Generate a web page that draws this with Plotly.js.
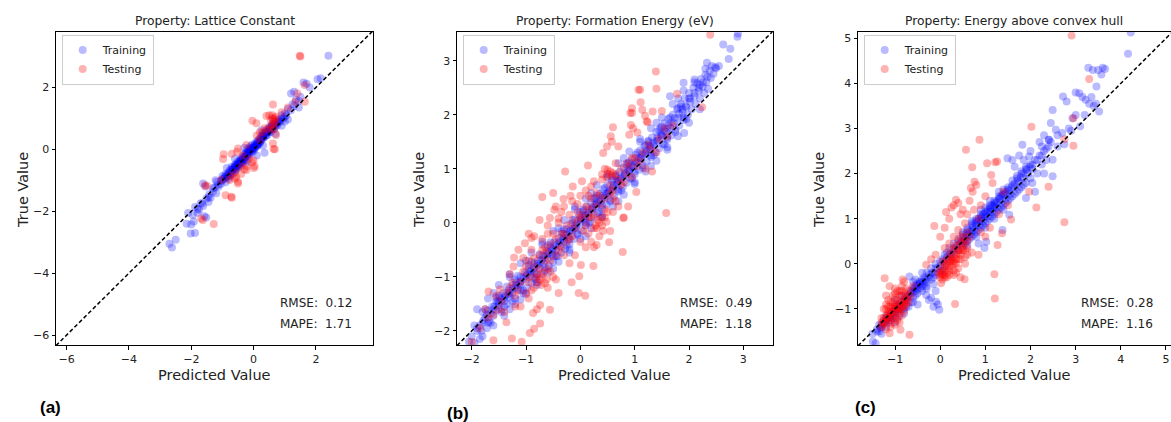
<!DOCTYPE html>
<html>
<head>
<meta charset="utf-8">
<script src="https://cdn.plot.ly/plotly-3.0.1.min.js"></script>
<style>html,body{margin:0;padding:0;background:#fff;}#chart{width:1171px;height:422px;}</style>
</head>
<body>
<div id="chart"></div>
<script>
// ---------- DATA ----------
const panelTitles = ["Property: Lattice Constant", "Property: Formation Energy (eV)", "Property: Energy above convex hull"];
const panelLetters = ["(a)", "(b)", "(c)"];
const rmseValues = ["0.12", "0.49", "0.28"];
const mapeValues = ["1.71", "1.18", "1.16"];
const seriesNames = ["Training", "Testing"];
const xRanges = [[-6.34, 3.83], [-2.27, 3.54], [-1.82, 5.10]];
const yRanges = [[-6.32, 3.79], [-2.26, 3.53], [-1.80, 5.14]];
const tickSteps = [2, 1, 1];

// Panel (a) Lattice Constant: [predicted, true]
const trainA = [
[-2.62,-3.17],[-2.7,-3.05],[-2.5,-2.92],[-2.02,-2.72],[-1.88,-2.7],[-2.15,-2.4],[-2.0,-2.43],[-1.92,-2.33],[-2.1,-2.06],[-1.95,-2.12],
[-1.8,-2.05],[-1.75,-1.95],[-1.88,-1.86],[-1.62,-1.83],[-1.7,-1.74],[-1.52,-2.2],[-1.58,-2.16],[-1.45,-1.7],[-1.52,-1.6],[-1.38,-1.56],
[-1.42,-1.45],[-1.62,-1.1],[-1.55,-1.2],[-1.3,-1.36],[-1.25,-1.24],[-1.2,-1.42],[-1.12,-1.2],[-1.18,-1.05],[-1.05,-1.12],
[-1.0,-1.0],[-1.0,-0.86],[-0.95,-0.96],[-0.9,-1.06],[-0.9,-0.8],[-0.85,-0.9],[-0.8,-0.75],[-0.8,-0.95],[-0.75,-0.85],[-0.75,-0.66],
[-0.7,-0.72],[-0.7,-0.56],[-0.66,-0.8],[-0.65,-0.62],[-0.6,-0.5],[-0.6,-0.7],[-0.56,-0.6],[-0.55,-0.46],[-0.5,-0.56],[-0.5,-0.4],
[-0.46,-0.5],[-0.45,-0.35],[-0.4,-0.45],[-0.4,-0.3],[-0.36,-0.4],[-0.35,-0.25],[-0.3,-0.35],[-0.3,-0.16],[-0.26,-0.25],[-0.25,-0.1],
[-0.2,-0.2],[-0.2,0.0],[-0.15,-0.15],[-0.15,0.05],[-0.1,-0.05],[-0.1,0.1],[-0.05,0.0],[-0.05,0.15],[0.0,-0.05],[0.0,0.1],
[0.05,0.05],[0.05,0.2],[0.1,0.1],[0.1,0.25],[0.15,0.15],[0.15,0.3],[0.2,0.2],[0.2,0.36],[0.25,0.3],[0.25,0.45],
[0.3,0.36],[0.3,0.5],[0.35,0.4],[0.4,0.5],[0.4,0.62],[0.45,0.46],[0.5,0.6],[0.5,0.72],[0.55,0.56],[0.6,0.7],
[0.6,0.82],[0.65,0.66],[0.7,0.86],[0.75,0.76],[0.8,0.96],[0.85,0.9],[0.9,1.1],[0.95,1.0],[1.0,1.16],[1.05,1.1],[1.1,1.3],[1.2,1.26],
[-0.92,-0.88],[-0.82,-0.84],[-0.72,-0.78],[-0.62,-0.64],[-0.52,-0.5],[-0.42,-0.38],[-0.32,-0.28],[-0.22,-0.1],[-0.12,-0.02],[-0.02,0.05],
[0.08,0.15],[0.18,0.28],[0.28,0.4],[0.38,0.55],[0.48,0.66],[0.58,0.75],[0.68,0.8],[0.78,0.88],[-0.58,-0.52],[-0.48,-0.44],
[-0.38,-0.34],[-0.28,-0.2],[-0.18,-0.08],[-0.08,0.04],[0.02,0.0],[0.12,0.2],[0.22,0.26],[0.32,0.45],
[1.25,1.46],[1.3,1.4],[1.36,1.6],[1.45,1.56],[1.5,1.7],[1.3,1.86],[1.2,1.8],[1.6,2.16],[1.7,2.12],[1.8,2.0],[2.05,2.26],[2.15,2.3],[2.4,3.02],
[0.35,-0.11],[-0.3,0.05],[0.1,-0.2],[0.7,0.5],[0.9,0.76],[1.1,0.96],[-0.86,-0.6],[-1.22,-1.0],[0.3,0.12],[0.62,0.96],
[0.25,0.62],[-0.6,-0.3],[-0.2,-0.42],[1.0,0.9],[1.45,1.35],
[-0.85,-0.82],[-0.78,-0.72],[-0.68,-0.66],[-0.62,-0.56],[-0.55,-0.54],[-0.48,-0.48],[-0.42,-0.42],[-0.35,-0.32],[-0.28,-0.26],[-0.22,-0.18],
[-0.15,-0.1],[-0.08,-0.02],[-0.02,0.02],[0.05,0.12],[0.12,0.12],[0.18,0.22],[0.25,0.36],[0.32,0.4],[0.4,0.55],[0.45,0.55],
[0.52,0.64],[0.6,0.75],[0.7,0.78],[0.8,0.92],[0.9,1.0],[1.0,1.05],[-1.05,-1.02],[-1.15,-1.15],[-1.3,-1.25],[-1.45,-1.55],
[-1.65,-1.75],[-1.8,-1.92],
[-1.0,-0.95],[-0.9,-0.9],[-0.8,-0.85],[-0.7,-0.65],[-0.6,-0.6],[-0.5,-0.5],[-0.4,-0.38],[-0.3,-0.3],[-0.2,-0.15],[-0.1,0.0],
[0.0,0.05],[0.1,0.15],[0.2,0.25],[0.3,0.42],[0.4,0.45],[0.5,0.55],[0.6,0.65],[0.7,0.75],[0.8,0.85],[-0.55,-0.65],
[-0.45,-0.55],[-0.35,-0.45],[-0.25,-0.35],[-0.15,-0.2],[-0.05,-0.1]
];
const testA = [
[1.48,3.02],[1.5,3.0],[0.62,1.45],[-0.04,0.92],[0.09,0.84],[0.41,1.08],[0.5,1.1],[0.6,1.02],[0.68,1.0],[0.7,0.9],
[0.62,0.8],[0.55,0.75],[0.66,0.66],[0.35,0.68],[0.45,0.65],[0.72,0.46],[0.62,0.19],[0.64,0.01],[0.68,0.0],[1.34,1.54],
[1.64,1.54],[1.4,1.8],[1.64,2.08],[-0.96,-0.16],[-0.98,-0.31],[-0.7,-0.14],[-0.53,-0.08],[-0.5,0.03],[-0.23,0.14],[0.0,-0.35],
[-0.05,-0.42],[0.03,-0.55],[0.01,-0.6],[-0.23,-0.67],[-0.3,-0.65],[-0.22,-0.55],[-0.56,-0.89],[-0.5,-1.05],[-0.77,-0.99],[-1.04,-0.99],
[-0.5,-1.1],[-0.6,-0.95],[-0.4,-0.8],[-1.5,-1.18],[-1.56,-1.16],[-0.9,-1.48],[-0.72,-1.53],[-0.7,-1.56],[-1.68,-2.23],[-1.63,-2.28],
[-1.28,-2.41],[-0.15,-0.3],[0.2,0.3],[0.9,1.2],[1.1,1.35],[-0.35,-0.2],[0.3,0.55],
[0.55,0.95],[0.65,0.9],[0.6,1.1],[0.72,1.05],[0.58,0.65],[-0.75,-0.85],[-0.6,-0.75],[-0.4,-0.55],[0.1,0.45],[0.2,0.55]
];

// Panel (b) Formation Energy
const trainB = [
[-2.05,-2.2],[-2.0,-2.1],[-1.95,-2.22],[-1.9,-2.0],[-1.95,-1.9],[-1.85,-2.15],[-1.8,-1.85],[-1.82,-2.0],[-1.75,-1.75],[-1.72,-1.95],
[-1.7,-1.62],[-1.68,-1.82],[-1.62,-1.55],[-1.6,-1.72],[-1.55,-1.45],[-1.55,-1.62],[-1.5,-1.52],[-1.48,-1.38],[-1.45,-1.6],[-1.42,-1.3],
[-1.4,-1.45],[-1.35,-1.5],[-1.32,-1.25],[-1.3,-1.38],[-1.25,-1.15],[-1.25,-1.3],[-1.2,-1.4],[-1.18,-1.1],[-1.15,-1.22],[-1.1,-1.0],
[-1.1,-1.15],[-1.05,-1.3],[-1.02,-0.92],[-1.0,-1.05],[-0.98,-1.2],[-0.95,-0.85],[-0.92,-0.98],[-0.9,-1.12],[-0.85,-0.75],[-0.85,-0.92],
[-0.82,-1.05],[-0.78,-0.7],[-0.75,-0.82],[-0.72,-0.95],[-0.7,-0.6],[-0.68,-0.75],[-0.65,-0.88],[-0.62,-0.52],[-0.6,-0.66],[-0.58,-0.8],
[-0.55,-0.45],[-0.52,-0.58],[-0.5,-0.72],[-0.48,-0.36],[-0.45,-0.5],[-0.42,-0.62],[-0.4,-0.28],[-0.38,-0.42],[-0.35,-0.55],[-0.32,-0.2],
[-0.3,-0.34],[-0.28,-0.48],[-0.25,-0.12],[-0.22,-0.26],[-0.2,-0.4],[-0.18,-0.02],[-0.15,-0.16],[-0.12,-0.3],[-0.1,0.06],[-0.08,-0.08],
[-0.05,-0.22],[-0.02,0.14],[0.0,0.0],[0.02,-0.14],[0.05,0.22],[0.08,0.08],[0.1,-0.05],[0.12,0.3],[0.15,0.16],[0.18,0.02],
[0.2,0.38],[0.22,0.24],[0.25,0.1],[0.28,0.46],[0.3,0.32],[0.32,0.18],[0.35,0.54],[0.38,0.4],[0.4,0.26],[0.42,0.62],
[0.45,0.48],[0.48,0.34],[0.5,0.7],[0.52,0.56],[0.55,0.42],[0.58,0.78],[0.6,0.64],[0.62,0.5],[0.65,0.86],[0.68,0.72],
[0.7,0.58],[0.72,0.94],[0.75,0.8],[0.78,0.66],[0.8,1.02],[0.82,0.88],[0.85,0.74],[0.88,1.1],[0.9,0.96],[0.92,0.82],
[0.95,1.18],[0.98,1.04],[1.0,0.9],[1.02,1.26],[1.05,1.12],[1.08,0.98],[1.1,1.34],[1.12,1.2],[1.15,1.06],[1.18,1.42],
[1.2,1.28],[1.22,1.14],[1.25,1.5],[1.28,1.36],[1.3,1.22],[1.32,1.58],[1.35,1.44],[1.38,1.3],[1.4,1.68],[1.42,1.52],
[1.45,1.38],[1.48,1.76],[1.5,1.6],[1.52,1.46],[1.55,1.84],[1.58,1.68],[1.6,1.54],[1.62,1.92],[1.65,1.76],[1.68,1.62],
[1.7,2.0],[1.72,1.84],[1.75,1.72],[1.78,2.1],[1.8,1.94],[1.82,1.8],[1.85,2.2],[1.88,2.04],[1.9,1.9],[1.92,2.3],
[1.95,2.14],[1.98,2.0],[2.0,2.4],[2.02,2.24],[2.05,2.1],[2.08,2.5],[2.1,2.34],[2.12,2.2],[2.15,2.58],[2.18,2.44],
[2.2,2.3],[2.22,2.66],[2.25,2.52],[2.28,2.4],[2.3,2.74],[2.32,2.6],[2.35,2.48],[2.38,2.82],[2.4,2.68],[2.42,2.9],
[2.45,2.76],[2.48,2.88],[2.5,2.86],[2.55,2.9],
[2.63,3.3],[2.76,3.22],[2.73,3.03],[2.89,3.44],[2.9,3.5],[1.91,1.66],[1.65,2.34],[1.9,2.59],[2.33,2.96],
[-1.6,-1.6],[-1.4,-1.38],[-1.2,-1.2],[-1.0,-0.98],[-0.8,-0.8],[-0.6,-0.58],[-0.4,-0.38],[-0.2,-0.16],[0.0,0.06],[0.2,0.24],
[0.4,0.46],[0.6,0.66],[0.8,0.88],[1.0,1.08],[1.2,1.3],[1.4,1.52],[1.6,1.74],[-1.5,-1.48],[-1.3,-1.3],[-1.1,-1.08],
[-0.9,-0.88],[-0.7,-0.68],[-0.5,-0.48],[-0.3,-0.28],[-0.1,-0.06],[0.1,0.14],[0.3,0.36],[0.5,0.56],[0.7,0.78],[0.9,0.98],
[1.1,1.2],[1.3,1.4],[1.5,1.62],
[-1.3,-1.6],[-1.1,-1.42],[-0.8,-1.15],[-0.5,-0.85],[-0.2,-0.55],[0.1,-0.25],[0.4,0.1],[0.7,0.4],[1.0,0.75],[1.3,1.05],
[1.6,1.4],[-1.6,-1.3],[-1.3,-1.0],[-1.0,-0.7],[-0.7,-0.4],[-0.4,-0.1],[-0.1,0.25],[0.2,0.55],[0.5,0.85],[0.8,1.2],
[1.1,1.5],[1.4,1.85],[1.8,2.3],[2.1,2.6],
[-1.9,-1.95],[-1.85,-1.9],[-1.78,-1.8],[-1.72,-1.7],[-1.65,-1.68],[-1.58,-1.55],[-1.52,-1.45],[-1.45,-1.42],[-1.38,-1.35],[-1.32,-1.32],
[-1.25,-1.22],[-1.18,-1.15],[-1.12,-1.12],[-1.05,-1.02],[-0.98,-0.95],[-0.92,-0.9],[-0.86,-0.84],[-0.78,-0.76],[-0.72,-0.7],[-0.66,-0.62],
[-0.58,-0.55],[-0.52,-0.5],[-0.46,-0.42],[-0.38,-0.35],[-0.32,-0.3],[-0.26,-0.22],[-0.18,-0.14],[-0.12,-0.1],[-0.06,-0.02],[0.02,0.06],
[0.08,0.12],[0.14,0.18],[0.22,0.28],[0.28,0.34],[0.34,0.4],[0.42,0.5],[0.48,0.54],[0.54,0.6],[0.62,0.7],[0.68,0.76],
[0.74,0.82],[0.82,0.92],[0.88,0.98],[0.94,1.04],[1.02,1.12],[1.08,1.2],[1.14,1.26],[1.22,1.34],[1.28,1.42],[1.34,1.48],
[1.42,1.58],[1.48,1.64],[1.54,1.7],[1.62,1.8],[1.68,1.86],[1.74,1.94],[1.82,2.02],[1.88,2.1],[1.94,2.16],[2.02,2.3],
[2.1,2.4],[2.18,2.5],[2.26,2.6],[2.34,2.7],[-1.7,-1.85],[-1.4,-1.55],[-1.1,-1.25],[-0.8,-0.95],[-0.5,-0.62],[-0.2,-0.3],
[0.1,0.0],[0.4,0.32],[0.7,0.62],[1.0,0.95],[1.3,1.25],[1.6,1.58],[1.9,1.95],[-1.8,-1.65],[-1.5,-1.35],[-1.2,-1.05],
[-0.9,-0.72],[-0.6,-0.42],[-0.3,-0.12],[0.0,0.2],[0.3,0.5],[0.6,0.8],[0.9,1.12],[1.2,1.44],[1.5,1.78],[1.8,2.12],
[2.0,2.3],[2.2,2.55],
[-1.9,-1.6],[-1.7,-1.4],[-1.5,-1.15],[-1.3,-0.95],[-1.1,-0.75],[-0.9,-0.55],[-0.7,-0.35],[-0.5,-0.15],[-0.3,0.05],[-0.1,0.3],
[0.1,0.45],[0.3,0.7],[0.5,0.9],[0.7,1.1],[0.9,1.32],[1.1,1.55],[1.3,1.75],[1.5,1.95],[1.7,2.2],[1.9,2.45],[2.1,2.65],[2.3,2.85],
[-1.8,-2.1],[-1.6,-1.9],[-1.4,-1.72],[-1.2,-1.5],[-1.0,-1.32],[-0.8,-1.1],[-0.6,-0.92],[-0.4,-0.72],[-0.2,-0.5],[0.0,-0.3],
[0.2,-0.1],[0.4,0.12],[0.6,0.3],[0.8,0.52],[1.0,0.72],[1.2,0.95],[1.4,1.15],[1.6,1.35],[1.8,1.6],[2.0,1.85],[2.2,2.1],
[-1.75,-1.6],[-1.55,-1.38],[-1.35,-1.18],[-1.15,-0.98],[-0.95,-0.78],[-0.75,-0.58],[-0.55,-0.36],[-0.35,-0.16],[-0.15,0.05],[0.05,0.25],
[0.25,0.45],[0.45,0.65],[0.65,0.88],[0.85,1.08],[1.05,1.3],[1.25,1.52],[1.45,1.72],[1.65,1.95],[1.85,2.15],[-1.65,-1.85],
[-1.45,-1.65],[-1.25,-1.45],[-1.05,-1.25],[-0.85,-1.02],[-0.65,-0.82],[-0.45,-0.62],[-0.25,-0.42],[-0.05,-0.2],[0.15,0.0],[0.35,0.2],
[0.55,0.4],[0.75,0.6],[0.95,0.82],[1.15,1.02],[1.35,1.25],[1.55,1.45],[1.75,1.68],[1.95,1.92]
];
const testB = [
[2.39,3.48],[1.39,2.8],[1.07,2.46],[1.1,2.46],[1.4,2.48],[1.11,2.23],[0.95,2.12],[0.92,2.03],[0.95,2.03],[1.14,2.09],
[1.33,2.06],[1.19,1.98],[1.22,1.88],[1.24,1.86],[0.93,1.81],[0.97,1.75],[0.6,1.77],[1.05,1.67],[0.9,1.63],[0.56,1.6],
[1.78,2.39],[2.24,2.14],[1.5,2.07],[0.49,1.41],[0.58,1.5],[0.42,1.29],[0.7,1.41],[0.14,1.06],[-0.28,0.95],[0.03,0.77],
[0.25,0.77],[-0.14,0.67],[0.2,0.67],[-0.5,0.55],[-0.7,0.48],[-0.31,0.44],[-0.48,0.24],[-0.45,0.3],[-0.18,0.5],[-0.15,0.4],
[-0.56,0.09],[-0.4,0.08],[-0.6,-0.05],[1.32,0.95],[1.03,0.57],[0.88,0.3],[0.79,0.09],[1.58,0.18],[0.53,-0.36],[0.78,-0.54],
[0.3,-0.41],[0.2,-0.35],[0.25,-0.45],[0.01,-0.78],[0.24,-0.8],[-0.1,-0.6],[-0.16,-1.1],[-0.02,-0.99],[-0.03,-1.3],[0.09,-1.35],
[-0.4,-1.3],[-0.56,-1.61],[-0.45,-1.05],[-0.74,-1.52],[-0.87,-1.67],[-0.8,-1.6],[-0.74,-1.86],[-0.93,-2.04],[-0.85,-1.96],[-1.08,-2.2],
[-1.26,-2.14],[-1.6,-2.17],[-1.69,-1.27],[-1.48,-1.23],[-1.36,-1.84],[-1.2,-1.55],[-1.14,-0.5],[-1.02,-0.38],[-1.22,-0.64],[-1.05,-0.65],
[-1.23,-0.81],[-0.9,-0.28],[-0.85,-0.25],[-1.0,-0.8],[-0.7,-0.5],[-0.62,-0.55],
[0.3,-0.1],[0.35,0.0],[0.4,-0.05],[0.45,0.1],[0.32,0.05],[0.42,-0.15],[0.38,0.1],[0.48,0.02],[0.28,-0.05],
[-0.8,-0.95],[-0.75,-1.05],[-0.7,-1.0],[-0.65,-1.12],[-0.72,-1.15],[-0.78,-1.1],[-0.68,-0.92],[-0.62,-1.05],[-0.82,-1.0],
[0.52,0.9],[0.55,0.95],[0.58,0.86],[0.5,0.98],[0.6,0.92],[0.48,0.85],
[-1.6,-1.7],[-1.45,-1.45],[-1.3,-1.2],[-1.2,-1.35],[-1.1,-1.1],[-0.95,-0.7],[-0.55,-0.4],[-0.45,-0.6],[-0.35,-0.2],[-0.25,-0.35],
[-0.15,0.0],[-0.05,0.2],[0.05,0.15],[0.1,0.3],[0.15,0.1],[0.2,0.45],[0.3,0.55],[0.6,0.6],[0.7,0.8],[0.75,1.0],
[0.85,0.9],[0.95,1.2],[1.05,1.05],[1.15,1.3],[1.25,1.45],[1.45,1.55],[1.6,1.6],[-1.85,-1.95],[-1.75,-1.6],[-2.0,-2.2],
[-1.4,-1.65],[-1.0,-1.3],[-0.9,-1.25],[-0.6,-0.85],[-0.3,-0.6],[0.0,-0.35],[0.6,0.2],[0.7,0.3],[0.15,-0.2],[-0.2,0.15],
[-0.6,-0.2],[-0.35,0.2],[0.1,0.6],[0.4,0.8],
[-1.5,-1.6],[-1.35,-1.3],[-1.15,-1.25],[-0.95,-1.0],[-0.85,-0.8],[-0.65,-0.7],[-0.55,-0.7],[-0.4,-0.5],[-0.3,-0.2],[-0.2,-0.3],
[-0.1,-0.1],[0.0,0.1],[0.1,-0.05],[0.2,0.1],[0.25,0.3],[0.35,0.35],[0.45,0.45],[0.55,0.7],[0.65,0.9],[0.8,0.75],
[0.9,1.05],[1.0,1.2],[0.5,0.2],[0.6,0.45],[-0.7,-0.3],[-0.5,-0.2],[-0.9,-0.5],[-1.3,-0.95],[0.35,-0.25],[0.25,-0.1],
[-0.75,-0.85],[-0.6,-1.2],[-0.85,-1.2],[0.45,1.0],[0.4,0.9],[0.65,1.1],[0.15,0.5],[-0.05,0.35],[-0.4,0.0],[-0.95,-1.4],
[-1.7,-1.75],[-1.55,-1.35],[-1.25,-1.1],[-1.05,-0.9],[-0.95,-1.1],[-0.85,-0.65],[-0.75,-0.6],[-0.65,-0.45],[-0.55,-0.9],[-0.45,-0.3],
[-0.35,-0.45],[-0.25,-0.05],[-0.15,-0.25],[-0.05,0.05],[0.05,-0.15],[0.15,0.25],[0.25,0.15],[0.35,0.5],[0.45,0.25],[0.55,0.55],
[0.65,0.4],[0.75,0.7],[0.85,1.1],[0.95,0.85],[1.1,1.15],[1.2,1.0],[1.3,1.35],[1.4,1.3],[1.55,1.75],[1.7,1.8],
[-1.1,-1.55],[-0.5,-1.0],[-0.2,-0.75],[0.1,-0.45],[0.55,-0.15],[0.8,0.1],[-0.95,-0.2],[-0.75,0.05],[-0.3,0.3],[0.0,0.5]
];

// Panel (c) Energy above convex hull
const trainC = [
[-1.5,-1.55],[-1.43,-1.76],[-1.49,-1.72],[-1.4,-1.45],[-1.35,-1.5],[-1.3,-1.35],[-1.3,-1.55],[-1.25,-1.25],[-1.2,-1.4],[-1.2,-1.15],
[-1.15,-1.3],[-1.1,-1.05],[-1.1,-1.25],[-1.05,-1.15],[-1.0,-0.95],[-1.0,-1.2],[-0.95,-1.05],[-0.9,-0.9],[-0.9,-1.15],[-0.85,-1.0],
[-0.8,-0.8],[-0.8,-1.1],[-0.75,-0.95],[-0.7,-0.7],[-0.7,-0.95],[-0.65,-0.6],[-0.65,-0.85],[-0.6,-0.55],[-0.6,-0.75],[-0.55,-0.5],
[-0.55,-0.7],[-0.5,-0.45],[-0.5,-0.65],[-0.45,-0.4],[-0.45,-0.55],[-0.4,-0.35],[-0.4,-0.5],[-0.35,-0.3],[-0.3,-0.4],[-0.3,-0.2],
[-0.25,-0.3],[-0.2,-0.1],[-0.2,-0.35],[-0.15,-0.2],[-0.1,0.0],[-0.1,-0.25],[-0.05,-0.1],[0.0,0.05],[0.0,-0.2],[-0.68,-0.28],
[-0.55,-0.35],[-0.45,-0.42],[-0.31,-0.5],[-0.31,-0.69],[-0.2,-0.75],[-0.09,-0.84],[-0.15,-0.95],[-0.02,-1.02],[-0.05,-0.9],[-0.25,-0.8],
[-0.1,-0.6],[-0.85,-0.7],[-1.0,-0.8],[-0.5,-0.9],
[0.05,0.1],[0.1,0.2],[0.1,-0.05],[0.15,0.25],[0.2,0.1],[0.2,0.35],[0.25,0.2],[0.3,0.45],[0.3,0.25],[0.35,0.35],
[0.4,0.55],[0.4,0.3],[0.45,0.45],[0.5,0.65],[0.5,0.4],[0.55,0.55],[0.6,0.75],[0.6,0.5],[0.65,0.65],[0.7,0.85],
[0.7,0.6],[0.75,0.75],[0.8,0.95],[0.8,0.7],[0.85,0.85],[0.9,1.05],[0.9,0.8],[0.95,0.95],[1.0,1.15],[1.0,0.9],
[1.05,1.05],[1.1,1.25],[1.1,1.0],[1.15,1.15],[1.2,1.35],[1.2,1.1],[1.25,1.25],[1.3,1.45],[1.3,1.2],[1.35,1.35],
[1.4,1.55],[1.4,1.3],[1.45,1.45],[1.5,1.65],[1.5,1.4],[1.55,1.55],[1.6,1.75],[1.6,1.5],[1.65,1.7],[1.7,1.9],
[1.7,1.6],[1.75,1.8],[1.8,2.0],[1.8,1.7],[1.85,1.9],[1.9,2.1],[1.9,1.8],[1.95,2.0],[2.0,2.2],[2.0,1.9],
[2.05,2.1],[2.1,2.3],[2.15,2.0],[2.2,2.4],[2.25,2.2],[2.3,2.5],[2.35,2.3],[2.4,2.6],
[0.8,0.85],[0.9,0.95],[1.0,1.05],[1.1,1.15],[1.2,1.25],[0.85,1.0],[0.95,1.1],[1.05,1.2],[1.15,1.3],[1.25,1.35],
[1.35,1.5],[1.45,1.6],[0.5,0.5],[0.6,0.62],[0.7,0.72],[-1.2,-1.25],[-1.1,-1.15],[-1.0,-1.05],[-0.9,-0.95],[-1.3,-1.4],
[-0.6,-0.62],[-0.5,-0.55],
[1.82,2.64],[1.97,2.38],[1.49,2.34],[1.6,2.3],[1.65,2.15],[1.75,2.4],[2.49,2.31],[2.49,1.94],[2.04,1.79],[1.9,1.46],
[1.53,1.09],[1.38,0.75],[1.02,0.49],[0.98,0.35],[0.85,0.45],[2.1,1.6],[2.3,2.0],[2.25,2.6],[2.4,2.75],[2.45,3.12],
[2.56,2.97],[2.41,2.75],[2.6,2.85],[2.7,2.9],[2.49,3.41],[2.72,3.71],[2.8,3.6],[2.93,3.23],[3.0,3.3],[2.85,3.0],
[3.08,3.78],[3.0,3.8],[3.15,3.7],[3.22,3.64],[3.3,3.55],[3.46,3.93],[3.52,3.38],[3.4,3.5],[3.35,3.7],[3.57,4.2],
[3.28,4.35],[3.38,4.3],[3.5,4.3],[3.6,4.35],[3.65,4.32],[4.16,4.66],[4.22,5.13],[2.6,2.6],[2.75,2.65],[2.9,2.95],
[3.1,3.05],[2.2,2.7],[2.0,2.5],[1.85,2.3],[2.3,2.85],[3.45,3.55],[3.2,3.3],
[-1.4,-1.5],[-1.32,-1.42],[-1.25,-1.32],[-1.18,-1.22],[-1.12,-1.18],[-1.05,-1.1],[-0.98,-1.0],[-0.92,-0.92],[-0.85,-0.85],[-0.78,-0.75],
[-0.72,-0.72],[-0.66,-0.66],[-0.58,-0.55],[-0.52,-0.48],[-0.45,-0.46],[-0.38,-0.4],[-0.32,-0.35],[-0.25,-0.25],[-0.18,-0.2],[-0.1,-0.1],
[0.0,-0.05],[0.08,0.05],[0.15,0.15],[0.22,0.22],[0.3,0.32],[0.38,0.42],[0.45,0.5],[0.52,0.58],[0.58,0.66],[0.65,0.72],
[0.72,0.8],[0.78,0.9],[0.85,0.95],[0.92,1.02],[0.98,1.1],[1.05,1.15],[1.12,1.22],[1.18,1.3],[1.25,1.38],[1.32,1.45],
[1.38,1.52],[1.45,1.55],[1.52,1.62],[1.58,1.7],[1.65,1.78],[1.72,1.85],[1.78,1.92],[1.85,2.0],[1.92,2.08],[1.98,2.15],
[2.05,2.2],[2.15,2.3],[2.25,2.4],[2.35,2.55],[2.45,2.7],[0.7,0.95],[0.9,1.2],[1.1,1.4],[1.3,1.6],[0.6,0.4],
[0.8,0.6],[1.0,0.8],[1.2,1.0],[1.4,1.2],[-0.4,-0.6],[-0.6,-0.85],[-0.8,-1.0],[-1.0,-1.3],[-0.3,-0.55],[-0.15,-0.45],
[0.05,-0.15],[-0.6,-0.4],[-0.4,-0.2],
[0.5,0.7],[0.6,0.8],[0.7,0.9],[0.8,1.0],[0.9,1.1],[1.0,1.25],[1.1,1.3],[1.2,1.4],[1.3,1.5],[1.4,1.65],
[1.5,1.7],[1.6,1.85],[1.7,1.95],[1.8,2.05],[1.9,2.15],[0.55,0.45],[0.65,0.55],[0.75,0.65],[0.85,0.75],[0.95,0.85],
[1.05,0.95],[1.15,1.05],[1.25,1.15],[1.35,1.25],[1.45,1.35],[1.55,1.45],[1.65,1.55],[1.75,1.65],[1.85,1.75],[-1.35,-1.35],
[-1.15,-1.2],[-0.95,-1.0],[-0.75,-0.8],[-0.55,-0.6],[-0.35,-0.45],[-0.15,-0.3]
];
const testC = [
[-1.3,-1.4],[-1.25,-1.3],[-1.2,-1.2],[-1.2,-1.0],[-1.15,-1.1],[-1.1,-0.95],[-1.1,-1.25],[-1.05,-1.05],[-1.0,-0.9],[-1.0,-1.15],
[-0.95,-1.0],[-0.9,-0.85],[-0.9,-1.1],[-0.85,-0.95],[-0.8,-0.8],[-0.8,-1.05],[-0.75,-0.7],[-0.75,-0.9],[-0.7,-0.6],[-0.7,-0.85],
[-1.15,-0.8],[-1.05,-0.7],[-0.95,-0.6],[-0.85,-0.5],[-0.8,-0.4],[-1.23,-0.32],[-1.12,-0.5],[-0.83,-0.35],[-1.3,-1.2],[-1.2,-1.45],
[-1.1,-1.4],[-1.0,-1.35],[-0.9,-1.3],[-0.95,-1.2],[-1.05,-1.2],[-1.15,-1.05],[-0.85,-0.7],[-0.75,-0.55],[-1.0,-0.75],[-0.68,-1.57],
[-0.88,-1.46],[-1.12,-1.54],[-1.25,-1.0],[-0.65,-0.7],[-0.6,-0.5],
[-0.05,-0.2],[0.0,-0.3],[0.05,-0.1],[0.05,-0.35],[0.1,0.0],[0.1,-0.25],[0.15,0.1],[0.15,-0.2],[0.2,0.2],[0.2,-0.1],
[0.25,0.05],[0.25,0.3],[0.3,-0.15],[0.3,0.15],[0.35,0.4],[0.35,0.0],[0.4,0.25],[0.4,-0.1],[0.45,0.45],[0.45,0.1],
[0.5,0.3],[0.5,0.6],[0.55,0.15],[0.55,0.5],[0.6,0.35],[0.6,0.7],[0.02,-0.43],[0.54,-0.34],[0.45,-0.3],[-0.31,-0.02],
[-0.2,0.1],[-0.1,0.2],[0.85,0.2],[0.7,0.25],[0.2,0.45],[0.1,0.35],[0.3,0.6],[0.4,0.75],
[0.13,1.15],[-0.13,0.84],[0.0,0.6],[0.1,0.8],[0.2,1.0],[0.25,1.25],[0.35,1.42],[0.3,1.3],[0.4,1.35],[0.45,1.1],
[0.5,1.2],[0.55,0.9],[0.6,1.1],[0.65,1.4],[0.68,1.68],[0.72,1.6],[0.76,1.82],[0.8,1.75],[0.71,2.14],[0.57,2.53],
[0.87,2.75],[1.04,2.23],[1.26,2.27],[1.22,2.25],[1.13,1.97],[1.16,1.79],[1.0,1.5],[0.9,1.3],[0.75,1.2],[0.85,1.0],
[2.02,3.04],[2.91,5.06],[3.3,4.1],[2.95,3.23],[2.95,2.62],[2.75,2.76],[1.97,1.6],[2.4,1.71],[2.13,1.25],[2.75,0.92],
[1.57,0.98],[1.37,0.68],[1.27,0.42],[1.2,-0.23],[1.21,-0.77],[0.33,-0.89],[1.0,0.6],[1.1,0.8],[1.3,1.1],[1.5,1.3],
[1.4,1.6],[0.9,0.7],
[-1.28,-1.35],[-1.22,-1.28],[-1.18,-1.15],[-1.12,-1.2],[-1.08,-1.1],[-1.02,-1.0],[-0.98,-1.08],[-0.92,-0.95],[-0.88,-1.0],[-0.82,-0.9],
[-0.78,-0.85],[-0.72,-0.75],[-1.05,-0.85],[-0.95,-0.8],[-0.9,-0.7],[-1.15,-0.95],[-1.2,-0.7],[-0.85,-0.6],[-1.0,-0.55],
[0.0,-0.15],[0.05,-0.25],[0.1,-0.15],[0.15,-0.05],[0.2,0.05],[0.25,-0.05],[0.25,0.15],[0.3,0.05],[0.35,0.2],[0.4,0.1],
[0.45,0.3],[0.5,0.45],[0.15,-0.3],[0.2,-0.25],[0.35,-0.2],[0.55,0.0],[0.6,0.2],[0.05,0.05],[0.3,0.35],[0.45,0.6],[0.4,0.5],
[-1.25,-1.2],[-1.2,-1.3],[-1.15,-1.2],[-1.1,-1.1],[-1.05,-0.95],[-1.0,-1.0],[-0.95,-0.9],[-0.9,-1.0],[-0.85,-0.85],[-0.8,-0.95],
[-0.75,-0.8],[-1.1,-0.85],[-1.0,-0.65],[-0.9,-0.6],[-1.3,-1.3],[-1.2,-0.9],[-0.95,-1.25],[-0.85,-1.15],[-1.08,-1.32],[-0.78,-0.65],
[0.05,-0.2],[0.1,-0.3],[0.2,-0.15],[0.3,0.0],[0.35,0.1],[0.4,0.3],[0.45,0.2],[0.5,0.35],[0.25,0.1],[0.15,0.0],
[0.0,-0.25],[0.3,-0.25],[0.55,0.3],[0.6,0.5],[0.65,0.6]
];
const trainSets = [trainA, trainB, trainC];
const testSets = [testA, testB, testC];

// ---------- LAYOUT (pixel geometry) ----------
const W = 1171, H = 422;
const plotLeft = [56, 457, 858];
const plotRight = [373, 772.7, 1170.5];
const plotTop = 32, plotBottom = 345;
const yLabelX = [23, 419, 819];
const statLeft = [278, 678.3, 1079.3];
const letterPos = [[38, 407], [445, 413], [853, 407]];

const FONT = "DejaVu Sans, Verdana, sans-serif";
const traces = [];
const layout = {
  width: W, height: H, autosize: false,
  margin: {l: 0, r: 0, t: 0, b: 0, pad: 0},
  paper_bgcolor: "#fff", plot_bgcolor: "#fff",
  font: {family: FONT, size: 11, color: "#222"},
  annotations: []
};
const px = v => v / W, py = v => (H - v) / H;

for (let i = 0; i < 3; i++) {
  const s = i === 0 ? "" : String(i + 1);
  const xa = "x" + s, ya = "y" + s;
  const legendId = "legend" + s;
  const axisCommon = {
    showline: true, mirror: true, linecolor: "#000", linewidth: 1,
    ticks: "outside", ticklen: 3.5, tickwidth: 1, tickcolor: "#000",
    showgrid: false, zeroline: false, dtick: tickSteps[i], tick0: 0,
    tickfont: {family: FONT, size: 11, color: "#222"}, fixedrange: true
  };
  layout["xaxis" + s] = Object.assign({}, axisCommon, {
    domain: [px(plotLeft[i]), px(plotRight[i])], range: xRanges[i], anchor: ya
  });
  layout["yaxis" + s] = Object.assign({}, axisCommon, {
    domain: [py(plotBottom), py(plotTop)], range: yRanges[i], anchor: xa
  });
  layout[legendId] = {
    x: px(plotLeft[i] + 5.7), y: py(34.5), xanchor: "left", yanchor: "top",
    bgcolor: "rgba(255,255,255,0.8)", bordercolor: "#cccccc", borderwidth: 1,
    font: {family: FONT, size: 11, color: "#222"}, itemwidth: 30, tracegroupgap: 0
  };

  traces.push({
    type: "scatter", mode: "markers", name: seriesNames[0], xaxis: xa, yaxis: ya, legend: legendId,
    x: trainSets[i].map(p => p[0]), y: trainSets[i].map(p => p[1]),
    marker: {size: 8, color: "rgba(0,0,255,0.27)", line: {width: 0}}, hoverinfo: "skip"
  });
  traces.push({
    type: "scatter", mode: "markers", name: seriesNames[1], xaxis: xa, yaxis: ya, legend: legendId,
    x: testSets[i].map(p => p[0]), y: testSets[i].map(p => p[1]),
    marker: {size: 8, color: "rgba(255,0,0,0.3)", line: {width: 0}}, hoverinfo: "skip"
  });
  const lo = Math.min(xRanges[i][0], yRanges[i][0]), hi = Math.max(xRanges[i][1], yRanges[i][1]);
  traces.push({
    type: "scatter", mode: "lines", xaxis: xa, yaxis: ya, showlegend: false, hoverinfo: "skip",
    x: [lo, hi], y: [lo, hi], line: {color: "#000", width: 1.5, dash: "4px,2.5px"}
  });

  const cx = (plotLeft[i] + plotRight[i]) / 2;
  layout.annotations.push(
    {text: panelTitles[i], xref: "paper", yref: "paper", x: px(cx), y: py(21), xanchor: "center", yanchor: "middle",
     showarrow: false, font: {family: FONT, size: 12.3, color: "#222"}},
    {text: "Predicted Value", xref: "paper", yref: "paper", x: px(cx), y: py(375), xanchor: "center", yanchor: "middle",
     showarrow: false, font: {family: FONT, size: 14.5, color: "#222"}},
    {text: "True Value", xref: "paper", yref: "paper", x: px(yLabelX[i]), y: py((plotTop + plotBottom) / 2 + 1.5), xanchor: "center", yanchor: "middle",
     textangle: -90, showarrow: false, font: {family: FONT, size: 14.5, color: "#222"}},
    {text: "RMSE:\u00a0 " + rmseValues[i], xref: "paper", yref: "paper", x: px(statLeft[i]), y: py(303), xanchor: "left", yanchor: "middle",
     showarrow: false, font: {family: FONT, size: 12, color: "#222"}},
    {text: "MAPE:\u00a0 " + mapeValues[i], xref: "paper", yref: "paper", x: px(statLeft[i]), y: py(324), xanchor: "left", yanchor: "middle",
     showarrow: false, font: {family: FONT, size: 12, color: "#222"}},
    {text: "<b>" + panelLetters[i] + "</b>", xref: "paper", yref: "paper", x: px(letterPos[i][0]), y: py(letterPos[i][1]), xanchor: "left", yanchor: "middle",
     showarrow: false, font: {family: "Liberation Sans, Arial, sans-serif", size: 17, color: "#000"}}
  );
}

Plotly.newPlot("chart", traces, layout, {staticPlot: true, displayModeBar: false});
</script>
</body>
</html>
